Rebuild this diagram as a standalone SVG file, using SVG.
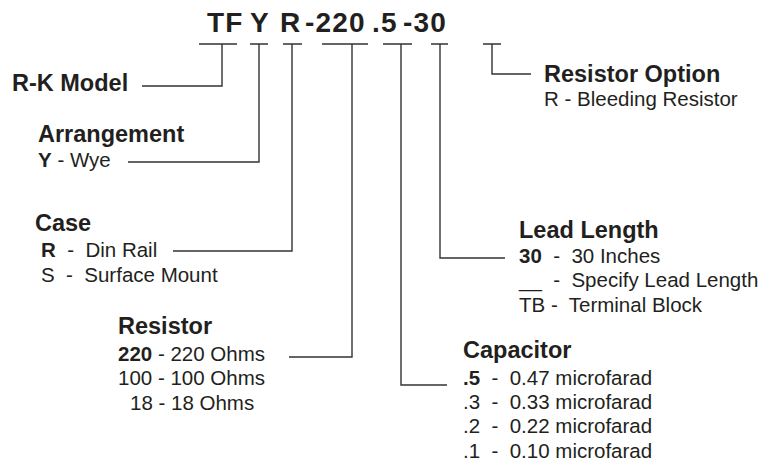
<svg xmlns="http://www.w3.org/2000/svg" width="777" height="464" viewBox="0 0 777 464">
<style>
text{font-family:"Liberation Sans",Arial,Helvetica,sans-serif;fill:#231f20;white-space:pre}
.t{font-size:28px;font-weight:bold;letter-spacing:1.2px}
.h{font-size:23.5px;font-weight:bold}
.i{font-size:20.5px}
.b{font-weight:bold}
.c{fill:none;stroke:#333;stroke-width:1.4}
</style>
<rect width="777" height="464" fill="#fff"/>
<g id="title">
<text class="t" x="207" y="32">TF</text>
<text class="t" x="250" y="32">Y</text>
<text class="t" x="280" y="32">R</text>
<text class="t" x="305" y="32">-220</text>
<text class="t" x="372" y="32">.5</text>
<text class="t" x="403" y="32">-30</text>
</g>
<g id="connectors" class="c">
<path d="M199 44H237M222 44V86H142"/>
<path d="M250 44H268M259 44V162H128"/>
<path d="M283 44H302M292 44V251H173"/>
<path d="M322 44H368M352 44V357H289"/>
<path d="M383 44H412M401 44V385H447"/>
<path d="M431 44H448M440 44V258H505"/>
<path d="M483 44H501M492 44V74H531"/>
</g>
<g id="rk-model">
<text class="h" x="12" y="91">R-K Model</text>
</g>
<g id="arrangement">
<text class="h" x="38" y="142">Arrangement</text>
<text class="i" x="38" y="167"><tspan class="b">Y</tspan> - Wye</text>
</g>
<g id="case">
<text class="h" x="35" y="231">Case</text>
<text class="i" x="41" y="257"><tspan class="b">R</tspan>  -  Din Rail</text>
<text class="i" x="41" y="282">S  -  Surface Mount</text>
</g>
<g id="resistor">
<text class="h" x="118" y="334">Resistor</text>
<text class="i" x="118" y="361"><tspan class="b">220</tspan> - 220 Ohms</text>
<text class="i" x="118" y="385">100 - 100 Ohms</text>
<text class="i" x="130" y="410">18 - 18 Ohms</text>
</g>
<g id="capacitor">
<text class="h" x="463" y="358">Capacitor</text>
<text class="i" x="463" y="385"><tspan class="b">.5</tspan>  -  0.47 microfarad</text>
<text class="i" x="463" y="409">.3  -  0.33 microfarad</text>
<text class="i" x="463" y="433">.2  -  0.22 microfarad</text>
<text class="i" x="463" y="458">.1  -  0.10 microfarad</text>
</g>
<g id="lead-length">
<text class="h" x="519" y="238">Lead Length</text>
<text class="i" x="519" y="263"><tspan class="b">30</tspan>  -  30 Inches</text>
<text class="i" x="519" y="287">__  -  Specify Lead Length</text>
<text class="i" x="519" y="312">TB -  Terminal Block</text>
</g>
<g id="resistor-option">
<text class="h" x="544" y="82">Resistor Option</text>
<text class="i" x="544" y="106">R - Bleeding Resistor</text>
</g>
</svg>
